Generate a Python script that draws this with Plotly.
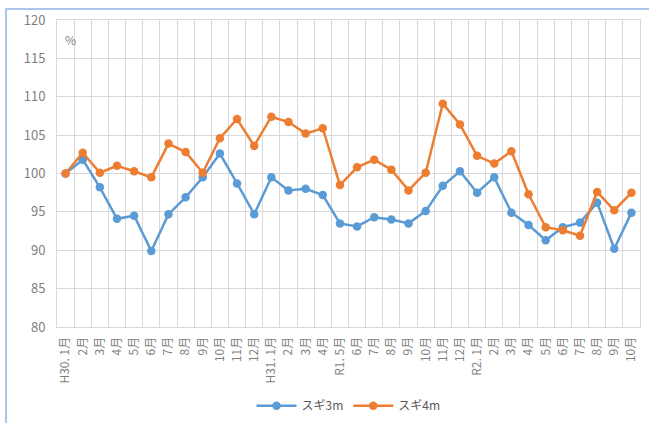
import plotly.graph_objects as go

# Month labels (Heisei 30 – Reiwa 2)
months = ["H30. 1月", "2月", "3月", "4月", "5月", "6月", "7月", "8月", "9月", "10月", "11月", "12月",
          "H31. 1月", "2月", "3月", "4月",
          "R1. 5月", "6月", "7月", "8月", "9月", "10月", "11月", "12月",
          "R2. 1月", "2月", "3月", "4月", "5月", "6月", "7月", "8月", "9月", "10月"]

# Price index, H30.1 = 100
sugi_3m = [100.0, 101.8, 98.2, 94.1, 94.5, 89.9, 94.7, 96.9, 99.5, 102.6, 98.7, 94.7,
           99.5, 97.8, 98.0, 97.2,
           93.5, 93.1, 94.3, 94.0, 93.5, 95.1, 98.4, 100.3,
           97.5, 99.5, 94.9, 93.3, 91.3, 93.0, 93.6, 96.2, 90.2, 94.9]
sugi_4m = [100.0, 102.7, 100.1, 101.0, 100.3, 99.5, 103.9, 102.8, 100.1, 104.6, 107.1, 103.6,
           107.4, 106.7, 105.2, 105.9,
           98.5, 100.8, 101.8, 100.5, 97.8, 100.1, 109.1, 106.4,
           102.3, 101.3, 102.9, 97.3, 93.0, 92.6, 91.9, 97.6, 95.2, 97.5]

x = list(range(len(months)))
font_family = "Noto Sans CJK JP, Noto Sans, sans-serif"
tick_color = "#7f7f7f"
grid_color = "#d9d9d9"

fig = go.Figure()
fig.add_trace(go.Scatter(x=x, y=sugi_3m, name="スギ3m", mode="lines+markers",
                         line=dict(color="#5B9BD5", width=2.5),
                         marker=dict(color="#5B9BD5", size=8.5)))
fig.add_trace(go.Scatter(x=x, y=sugi_4m, name="スギ4m", mode="lines+markers",
                         line=dict(color="#ED7D31", width=2.5),
                         marker=dict(color="#ED7D31", size=8.5)))

fig.update_layout(
    width=649, height=423,
    margin=dict(l=57, r=9, t=20, b=96),
    paper_bgcolor="white", plot_bgcolor="white",
    font=dict(family=font_family, size=12, color=tick_color),
    showlegend=True,
    legend=dict(orientation="h", x=0.5, xanchor="center",
                yref="container", y=0.075, yanchor="top",
                font=dict(size=12, color="#595959"), itemwidth=40),
    xaxis=dict(
        range=[-0.5, len(months) - 0.5], automargin=False,
        tickmode="array", tickvals=x, ticktext=months, tickangle=-90,
        showgrid=False, zeroline=False, ticks="", ticklabelstandoff=4,
        tickfont=dict(size=12, color=tick_color),
        showline=True, linecolor=grid_color, mirror=True,
        minor=dict(tick0=0.5, dtick=1, showgrid=True, gridcolor=grid_color, gridwidth=1, ticks=""),
    ),
    yaxis=dict(
        range=[80, 120], dtick=5, showgrid=True, gridcolor=grid_color, gridwidth=1,
        zeroline=False, ticks="", ticklabelstandoff=8, automargin=False,
        tickfont=dict(size=13, color=tick_color),
        showline=True, linecolor=grid_color, mirror=True,
    ),
    annotations=[dict(text="%", xref="paper", yref="paper", x=0.01, y=0.935,
                      xanchor="left", yanchor="middle", showarrow=False,
                      font=dict(size=12, color=tick_color))],
    shapes=[dict(type="rect", xref="paper", yref="paper",
                 x0=-51 / 583, x1=1.2, y0=-0.5, y1=1 + 11 / 307,
                 line=dict(color="#8fb4e3", width=1.5), fillcolor="rgba(0,0,0,0)", layer="below")],
)

fig.write_html("out.html")
